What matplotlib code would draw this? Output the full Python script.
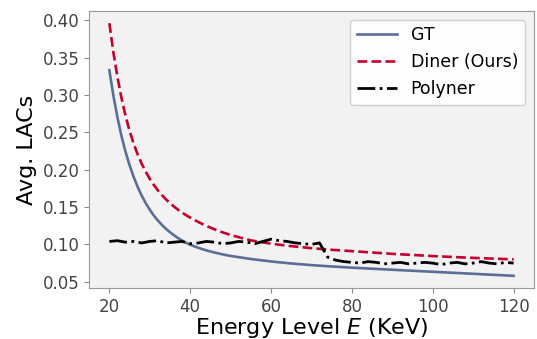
import matplotlib
matplotlib.use("Agg")
import matplotlib.pyplot as plt

# values
gt_energy = list(range(20, 41)) + [42, 44, 46, 48, 50, 55, 60, 65, 70, 75, 80,
                                   90, 100, 110, 120]
gt_lac = [0.3330, 0.2990, 0.2700, 0.2450, 0.2240, 0.2060, 0.1905, 0.1770, 0.1653,
          0.1552, 0.1464, 0.1387, 0.1320, 0.1261, 0.1209, 0.1163, 0.1122, 0.1085,
          0.1052, 0.1022, 0.0995, 0.0955, 0.0920, 0.0892, 0.0867, 0.0846, 0.0805,
          0.0772, 0.0745, 0.0723, 0.0705, 0.0689, 0.0661, 0.0634, 0.0607, 0.0580]

diner_energy = list(range(20, 41)) + [42, 44, 46, 48, 50, 55, 60, 65, 70, 75, 80,
                                      90, 100, 110, 120]
diner_lac = [0.3960, 0.3570, 0.3240, 0.2960, 0.2720, 0.2520, 0.2350, 0.2205, 0.2080,
             0.1972, 0.1878, 0.1796, 0.1724, 0.1660, 0.1603, 0.1552, 0.1506, 0.1464,
             0.1426, 0.1391, 0.1359, 0.1300, 0.1248, 0.1202, 0.1162, 0.1126, 0.1054,
             0.1010, 0.0977, 0.0950, 0.0928, 0.0910, 0.0874, 0.0844, 0.0820, 0.0800]

polyner_energy = list(range(20, 121, 2))
polyner_lac = [0.104, 0.105, 0.103, 0.104, 0.102, 0.104, 0.105, 0.102, 0.103, 0.104,
               0.101, 0.102, 0.104, 0.103, 0.101, 0.102, 0.104, 0.103, 0.101, 0.104,
               0.107, 0.105, 0.104, 0.102, 0.101, 0.100, 0.102, 0.083, 0.079, 0.077,
               0.076, 0.075, 0.077, 0.076, 0.074, 0.075, 0.076, 0.074, 0.075, 0.076,
               0.075, 0.073, 0.075, 0.076, 0.074, 0.075, 0.077, 0.075, 0.074, 0.076,
               0.075]

TICK_SIZE = 12
LABEL_SIZE = 16

fig = plt.figure(figsize=(5.37, 3.39), dpi=100)
ax = fig.add_axes([0.166, 0.150, 0.828, 0.818])
ax.set_facecolor("#f2f2f2")

ax.plot(gt_energy, gt_lac, color="#5b6e96", linewidth=1.9, label="GT")
ax.plot(diner_energy, diner_lac, color="#c4002d", linewidth=1.9,
        linestyle="--", label="Diner (Ours)")
ax.plot(polyner_energy, polyner_lac, color="black", linewidth=2.0,
        linestyle="-.", label="Polyner")

ax.set_xlim(15, 125)
ax.set_ylim(0.0415, 0.4125)
ax.set_xticks([20, 40, 60, 80, 100, 120])
ax.set_yticks([0.05, 0.10, 0.15, 0.20, 0.25, 0.30, 0.35, 0.40])
ax.set_yticklabels([f"{v:.2f}" for v in ax.get_yticks()])

ax.tick_params(labelsize=TICK_SIZE, colors="#444444", color="#888888")
for spine in ax.spines.values():
    spine.set_color("#999999")

ax.set_xlabel("Energy Level $E$ (KeV)", fontsize=LABEL_SIZE, labelpad=0)
ax.set_ylabel("Avg. LACs", fontsize=LABEL_SIZE)

ax.legend(loc="upper right", fontsize=12.5, facecolor="white",
          edgecolor="#cccccc", framealpha=0.9, handlelength=2.3)

fig.savefig("out.png", dpi=100)
